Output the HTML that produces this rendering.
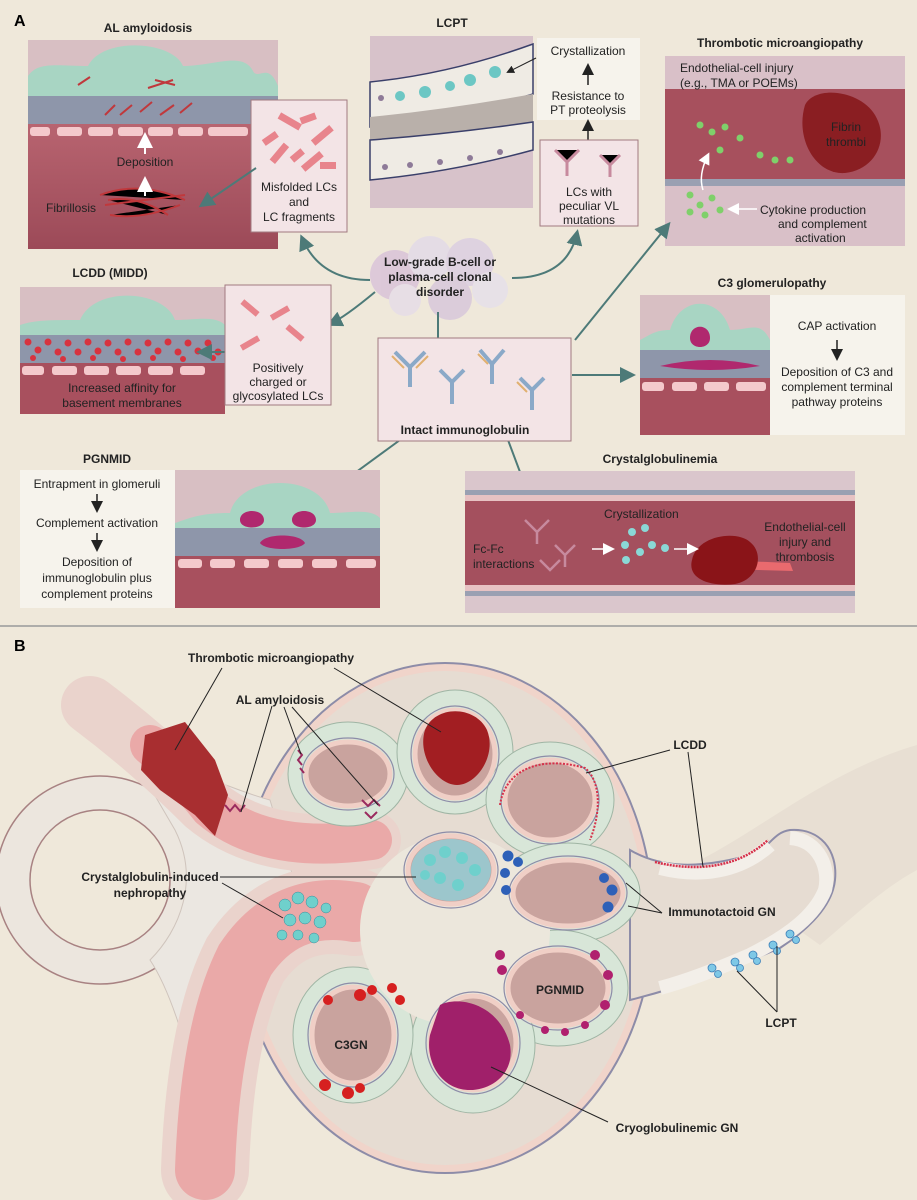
<!DOCTYPE html>
<html><head><meta charset="utf-8"><style>
html,body{margin:0;padding:0;background:#efe8da;}
svg{display:block;font-family:"Liberation Sans",sans-serif;}
.t{font-size:12px;fill:#222;}
.b{font-weight:bold;font-size:12px;fill:#222;}
</style></head><body>
<svg width="917" height="1200" viewBox="0 0 917 1200" xmlns="http://www.w3.org/2000/svg">
<defs>
<marker id="ar" markerWidth="8" markerHeight="8" refX="6" refY="4" orient="auto"><path d="M0,0 L8,4 L0,8 Z" fill="#4d7a78"/></marker>
<marker id="ak" markerWidth="8" markerHeight="8" refX="6" refY="4" orient="auto"><path d="M0,0 L8,4 L0,8 Z" fill="#222"/></marker>
<marker id="aw" markerWidth="8" markerHeight="8" refX="6" refY="4" orient="auto"><path d="M0,0 L8,4 L0,8 Z" fill="#fff"/></marker>
<linearGradient id="lum" x1="0" y1="0" x2="0" y2="1"><stop offset="0" stop-color="#b86470"/><stop offset="1" stop-color="#9c4a58"/></linearGradient>
<clipPath id="cap"><ellipse cx="445" cy="918" rx="200" ry="247"/></clipPath>
</defs>
<rect width="917" height="1200" fill="#efe8da"/>
<text x="14" y="26" style="font-size:16px;font-weight:bold">A</text>

<!-- AL amyloidosis -->
<text x="148" y="32" class="b" text-anchor="middle">AL amyloidosis</text>
<rect x="28" y="40" width="250" height="209" fill="#d8bfc3"/>
<path d="M28,96 h250 v-10 c-10,-25 -20,-5 -25,-15 c-10,-20 -40,-5 -70,-5 c-10,-25 -80,-30 -95,0 c-30,0 -50,-5 -60,10 z" fill="#a8d5c3"/>
<rect x="28" y="96" width="250" height="28" fill="#8e96aa"/>
<rect x="28" y="124" width="250" height="125" fill="url(#lum)"/>
<g fill="#f4c9cc"><rect x="30" y="127" width="20" height="9" rx="3"/><rect x="57" y="127" width="25" height="9" rx="3"/><rect x="88" y="127" width="25" height="9" rx="3"/><rect x="118" y="127" width="25" height="9" rx="3"/><rect x="148" y="127" width="25" height="9" rx="3"/><rect x="178" y="127" width="25" height="9" rx="3"/><rect x="208" y="127" width="40" height="9" rx="3"/></g>
<g stroke="#c0383c" stroke-width="2"><path d="M105,115 l10,-10 M120,115 l12,-10 M140,112 l12,-10 M160,115 l14,-10 M180,113 l12,-10 M78,85 l12,-8 M148,88 l25,-8 M155,80 l20,5"/>
<path d="M100,195 q40,-15 85,5 M105,205 q40,-5 80,-10 M110,215 q30,5 70,-10 M108,200 q30,-5 60,15"/></g>
<text x="145" y="166" class="t" text-anchor="middle">Deposition</text>
<text x="46" y="212" class="t">Fibrillosis</text>
<line x1="145" y1="154" x2="145" y2="136" stroke="#fff" stroke-width="2" marker-end="url(#aw)"/>
<line x1="145" y1="196" x2="145" y2="180" stroke="#fff" stroke-width="2" marker-end="url(#aw)"/>
<rect x="251" y="100" width="96" height="132" fill="#f3e4e6" stroke="#a27a80"/>
<g fill="#e8848c"><rect x="278" y="118" width="24" height="7" transform="rotate(30 290 121)"/><rect x="300" y="115" width="16" height="7" transform="rotate(-20 308 118)"/><rect x="310" y="132" width="24" height="7" transform="rotate(-40 322 135)"/><rect x="262" y="135" width="16" height="7" transform="rotate(-35 270 138)"/><rect x="268" y="150" width="22" height="7" transform="rotate(-50 279 153)"/><rect x="290" y="152" width="14" height="7" transform="rotate(-40 297 155)"/><rect x="300" y="158" width="24" height="7" transform="rotate(-40 312 161)"/><rect x="320" y="162" width="16" height="7"/></g>
<text x="299" y="191" class="t" text-anchor="middle">Misfolded LCs</text>
<text x="299" y="206" class="t" text-anchor="middle">and</text>
<text x="299" y="221" class="t" text-anchor="middle">LC fragments</text>
<line x1="256" y1="168" x2="202" y2="205" stroke="#4d7a78" stroke-width="2" marker-end="url(#ar)"/>

<!-- LCPT -->
<text x="452" y="27" class="b" text-anchor="middle">LCPT</text>
<rect x="370" y="36" width="163" height="172" fill="#d7c2ca"/>
<path d="M370,82 q80,-8 163,-38 v50 q-80,25 -163,33 z" fill="#efebe4" stroke="#3a3f6a" stroke-width="1.5"/>
<path d="M370,117 q80,-8 163,-23 v28 q-80,12 -163,18 z" fill="#b9b0aa"/>
<path d="M370,140 q80,-6 163,-18 v28 q-80,22 -163,30 z" fill="#efebe4" stroke="#3a3f6a" stroke-width="1.5"/>
<g fill="#6cc7c4"><circle cx="400" cy="96" r="5"/><circle cx="425" cy="92" r="6"/><circle cx="450" cy="86" r="5"/><circle cx="470" cy="80" r="6"/><circle cx="495" cy="72" r="6"/></g>
<g fill="#8e7a98"><circle cx="381" cy="98" r="3"/><circle cx="385" cy="167" r="3"/><circle cx="410" cy="165" r="3"/><circle cx="440" cy="162" r="3"/><circle cx="470" cy="158" r="3"/><circle cx="500" cy="152" r="3"/></g>
<rect x="537" y="38" width="103" height="82" fill="#f6f3ec"/>
<text x="588" y="55" class="t" text-anchor="middle">Crystallization</text>
<line x1="588" y1="85" x2="588" y2="66" stroke="#222" stroke-width="1.5" marker-end="url(#ak)"/>
<text x="588" y="100" class="t" text-anchor="middle">Resistance to</text>
<text x="588" y="114" class="t" text-anchor="middle">PT proteolysis</text>
<line x1="588" y1="140" x2="588" y2="122" stroke="#222" stroke-width="1.5" marker-end="url(#ak)"/>
<line x1="536" y1="58" x2="508" y2="72" stroke="#222" stroke-width="1" marker-end="url(#ak)"/>
<rect x="540" y="140" width="98" height="86" fill="#f3e4e6" stroke="#a27a80"/>
<g stroke="#c78a9e" stroke-width="3"><path d="M555,150 l12,12 l12,-12 M567,162 v14 M600,155 l10,10 l10,-10 M610,165 v12"/></g>
<text x="589" y="196" class="t" text-anchor="middle">LCs with</text>
<text x="589" y="210" class="t" text-anchor="middle">peculiar VL</text>
<text x="589" y="224" class="t" text-anchor="middle">mutations</text>

<!-- TMA -->
<text x="780" y="47" class="b" text-anchor="middle">Thrombotic microangiopathy</text>
<rect x="665" y="56" width="240" height="190" fill="#d9c0c8"/>
<rect x="665" y="89" width="240" height="90" fill="#a7505d"/>
<rect x="665" y="179" width="240" height="7" fill="#9aa0b2"/>
<path d="M805,105 c10,-20 55,-15 70,10 c15,25 0,55 -30,58 c-30,2 -50,-35 -40,-68z" fill="#8a1e22"/>
<g fill="#7fd06a"><circle cx="700" cy="125" r="3.5"/><circle cx="712" cy="132" r="3.5"/><circle cx="725" cy="127" r="3.5"/><circle cx="740" cy="138" r="3.5"/><circle cx="720" cy="150" r="3.5"/><circle cx="760" cy="155" r="3.5"/><circle cx="775" cy="160" r="3.5"/><circle cx="790" cy="160" r="3.5"/><circle cx="690" cy="195" r="3.5"/><circle cx="700" cy="205" r="3.5"/><circle cx="712" cy="198" r="3.5"/><circle cx="705" cy="215" r="3.5"/><circle cx="720" cy="210" r="3.5"/><circle cx="690" cy="212" r="3.5"/></g>
<text x="680" y="72" class="t">Endothelial-cell injury</text>
<text x="680" y="87" class="t">(e.g., TMA or POEMs)</text>
<text x="846" y="131" class="t" text-anchor="middle">Fibrin</text>
<text x="846" y="146" class="t" text-anchor="middle">thrombi</text>
<text x="760" y="214" class="t">Cytokine production</text>
<text x="778" y="228" class="t">and complement</text>
<text x="795" y="242" class="t">activation</text>
<line x1="757" y1="209" x2="730" y2="209" stroke="#fff" stroke-width="1.5" marker-end="url(#aw)"/>
<path d="M703,190 q-5,-15 5,-35" fill="none" stroke="#fff" stroke-width="1.5" marker-end="url(#aw)"/>

<!-- center cloud -->
<g opacity="0.85"><circle cx="395" cy="275" r="25" fill="#d9c3d8"/><circle cx="430" cy="258" r="22" fill="#e3dbe7"/><circle cx="470" cy="262" r="24" fill="#dccfe2"/><circle cx="490" cy="290" r="18" fill="#e6e0ea"/><circle cx="450" cy="298" r="22" fill="#d8c8da"/><circle cx="405" cy="300" r="16" fill="#e6dde8"/></g>
<text x="440" y="266" class="b" text-anchor="middle">Low-grade B-cell or</text>
<text x="440" y="281" class="b" text-anchor="middle">plasma-cell clonal</text>
<text x="440" y="296" class="b" text-anchor="middle">disorder</text>
<path d="M370,280 q-50,0 -68,-42" fill="none" stroke="#4d7a78" stroke-width="2" marker-end="url(#ar)"/>
<path d="M375,292 q-30,25 -45,32" fill="none" stroke="#4d7a78" stroke-width="2" marker-end="url(#ar)"/>
<path d="M512,278 q55,0 65,-45" fill="none" stroke="#4d7a78" stroke-width="2" marker-end="url(#ar)"/>
<line x1="438" y1="312" x2="438" y2="354" stroke="#4d7a78" stroke-width="2" marker-end="url(#ar)"/>
<line x1="575" y1="340" x2="668" y2="225" stroke="#4d7a78" stroke-width="2" marker-end="url(#ar)"/>
<line x1="572" y1="375" x2="632" y2="375" stroke="#4d7a78" stroke-width="2" marker-end="url(#ar)"/>
<line x1="400" y1="440" x2="318" y2="500" stroke="#4d7a78" stroke-width="2" marker-end="url(#ar)"/>
<line x1="508" y1="440" x2="535" y2="512" stroke="#4d7a78" stroke-width="2" marker-end="url(#ar)"/>

<!-- LCDD -->
<text x="110" y="277" class="b" text-anchor="middle">LCDD (MIDD)</text>
<rect x="20" y="287" width="205" height="127" fill="#d8bfc3"/>
<path d="M20,335 h205 v-10 c-10,-10 -30,-5 -50,-5 c-10,-30 -80,-35 -95,0 c-30,0 -45,0 -60,5z" fill="#a8d5c3"/>
<rect x="20" y="335" width="205" height="28" fill="#8e96aa"/>
<g fill="#d8333f">
<circle cx="28" cy="342" r="3.5"/><circle cx="38" cy="350" r="3.5"/><circle cx="48" cy="342" r="3.5"/><circle cx="58" cy="352" r="3.5"/><circle cx="68" cy="343" r="3.5"/><circle cx="78" cy="352" r="3.5"/><circle cx="88" cy="342" r="3.5"/><circle cx="98" cy="351" r="3.5"/><circle cx="108" cy="343" r="3.5"/><circle cx="118" cy="352" r="3.5"/><circle cx="128" cy="342" r="3.5"/><circle cx="138" cy="352" r="3.5"/><circle cx="148" cy="343" r="3.5"/><circle cx="158" cy="351" r="3.5"/><circle cx="168" cy="342" r="3.5"/><circle cx="178" cy="352" r="3.5"/><circle cx="188" cy="343" r="3.5"/><circle cx="198" cy="351" r="3.5"/><circle cx="208" cy="343" r="3.5"/><circle cx="218" cy="352" r="3.5"/>
<circle cx="33" cy="358" r="3"/><circle cx="63" cy="359" r="3"/><circle cx="93" cy="358" r="3"/><circle cx="123" cy="359" r="3"/><circle cx="153" cy="358" r="3"/><circle cx="183" cy="359" r="3"/><circle cx="213" cy="358" r="3"/></g>
<rect x="20" y="363" width="205" height="51" fill="#a8505e"/>
<g fill="#f4c9cc"><rect x="22" y="366" width="22" height="9" rx="3"/><rect x="52" y="366" width="25" height="9" rx="3"/><rect x="84" y="366" width="25" height="9" rx="3"/><rect x="116" y="366" width="25" height="9" rx="3"/><rect x="148" y="366" width="25" height="9" rx="3"/><rect x="180" y="366" width="25" height="9" rx="3"/></g>
<text x="122" y="392" class="t" text-anchor="middle">Increased affinity for</text>
<text x="122" y="407" class="t" text-anchor="middle">basement membranes</text>
<line x1="228" y1="352" x2="200" y2="352" stroke="#4d7a78" stroke-width="2" marker-end="url(#ar)"/>
<rect x="225" y="285" width="106" height="120" fill="#f3e4e6" stroke="#a27a80"/>
<g fill="#e8848c"><rect x="240" y="305" width="20" height="6" transform="rotate(40 250 308)"/><rect x="270" y="310" width="20" height="6" transform="rotate(-30 280 313)"/><rect x="285" y="330" width="20" height="6" transform="rotate(40 295 333)"/><rect x="240" y="340" width="20" height="6" transform="rotate(-30 250 343)"/></g>
<text x="278" y="372" class="t" text-anchor="middle">Positively</text>
<text x="278" y="386" class="t" text-anchor="middle">charged or</text>
<text x="278" y="400" class="t" text-anchor="middle">glycosylated LCs</text>

<!-- Intact Ig -->
<rect x="378" y="338" width="193" height="103" fill="#f3e4e6" stroke="#a27a80"/>
<g stroke="#8aa9c8" stroke-width="4" fill="none"><path d="M395,352 l15,15 l15,-15 M410,367 v20 M440,370 l12,12 l12,-12 M452,382 v22 M480,350 l12,14 l12,-14 M492,364 v20 M520,378 l12,12 l12,-12 M532,390 v20"/></g>
<g stroke="#e0b070" stroke-width="2" fill="none"><path d="M392,356 l12,12 M428,356 l-12,12 M478,354 l10,10 M517,382 l10,10"/></g>
<text x="465" y="434" class="b" text-anchor="middle">Intact immunoglobulin</text>

<!-- C3 -->
<text x="772" y="287" class="b" text-anchor="middle">C3 glomerulopathy</text>
<rect x="640" y="295" width="130" height="140" fill="#d8bfc3"/>
<path d="M640,350 h130 v-10 c-10,-20 -20,-10 -40,-10 c-10,-35 -50,-35 -60,0 c-15,0 -20,5 -30,10z" fill="#a8d5c3"/>
<rect x="640" y="350" width="130" height="28" fill="#8e96aa"/>
<path d="M690,338 c0,-15 20,-15 20,0 c0,12 -20,12 -20,0z" fill="#b0286e"/>
<path d="M660,366 q50,-12 100,0 q-50,8 -100,0z" fill="#b0286e"/>
<rect x="640" y="378" width="130" height="57" fill="#a8505e"/>
<g fill="#f4c9cc"><rect x="642" y="382" width="22" height="9" rx="3"/><rect x="672" y="382" width="25" height="9" rx="3"/><rect x="704" y="382" width="25" height="9" rx="3"/><rect x="736" y="382" width="30" height="9" rx="3"/></g>
<rect x="770" y="295" width="135" height="140" fill="#f6f3ec"/>
<text x="837" y="330" class="t" text-anchor="middle">CAP activation</text>
<line x1="837" y1="340" x2="837" y2="358" stroke="#222" stroke-width="1.5" marker-end="url(#ak)"/>
<text x="837" y="376" class="t" text-anchor="middle">Deposition of C3 and</text>
<text x="837" y="391" class="t" text-anchor="middle">complement terminal</text>
<text x="837" y="406" class="t" text-anchor="middle">pathway proteins</text>

<!-- PGNMID -->
<text x="107" y="463" class="b" text-anchor="middle">PGNMID</text>
<rect x="20" y="470" width="155" height="138" fill="#f6f3ec"/>
<text x="97" y="488" class="t" text-anchor="middle">Entrapment in glomeruli</text>
<line x1="97" y1="494" x2="97" y2="510" stroke="#222" stroke-width="1.5" marker-end="url(#ak)"/>
<text x="97" y="527" class="t" text-anchor="middle">Complement activation</text>
<line x1="97" y1="533" x2="97" y2="549" stroke="#222" stroke-width="1.5" marker-end="url(#ak)"/>
<text x="97" y="566" class="t" text-anchor="middle">Deposition of</text>
<text x="97" y="582" class="t" text-anchor="middle">immunoglobulin plus</text>
<text x="97" y="598" class="t" text-anchor="middle">complement proteins</text>
<rect x="175" y="470" width="205" height="138" fill="#d8bfc3"/>
<path d="M175,528 h205 v-10 c-10,-10 -30,-5 -50,-5 c-10,-40 -90,-40 -100,0 c-30,0 -40,5 -55,10z" fill="#a8d5c3"/>
<rect x="175" y="528" width="205" height="28" fill="#8e96aa"/>
<path d="M240,520 c0,-12 24,-12 24,0 c0,10 -24,10 -24,0z M292,520 c0,-12 24,-12 24,0 c0,10 -24,10 -24,0z M260,543 c5,-10 40,-10 45,0 c-5,8 -40,8 -45,0z" fill="#b0286e"/>
<rect x="175" y="556" width="205" height="52" fill="#a8505e"/>
<g fill="#f4c9cc"><rect x="178" y="559" width="24" height="9" rx="3"/><rect x="210" y="559" width="25" height="9" rx="3"/><rect x="244" y="559" width="25" height="9" rx="3"/><rect x="278" y="559" width="25" height="9" rx="3"/><rect x="312" y="559" width="25" height="9" rx="3"/><rect x="346" y="559" width="30" height="9" rx="3"/></g>

<!-- Crystalglobulinemia -->
<text x="660" y="463" class="b" text-anchor="middle">Crystalglobulinemia</text>
<rect x="465" y="471" width="390" height="142" fill="#dac6cc"/>
<rect x="465" y="490" width="390" height="5" fill="#9aa0b2"/>
<rect x="465" y="495" width="390" height="6" fill="#e7c2c3"/>
<rect x="465" y="501" width="390" height="84" fill="#a4505e"/>
<rect x="465" y="585" width="390" height="6" fill="#e7c2c3"/>
<rect x="465" y="591" width="390" height="5" fill="#9aa0b2"/>
<path d="M720,560 l70,3 l3,8 l-70,-2z" fill="#e96a6e"/>
<path d="M692,560 c5,-25 45,-30 58,-18 c15,12 8,38 -15,42 c-25,3 -48,-5 -43,-24z" fill="#8a1418"/>
<g stroke="#c78a9e" stroke-width="2.5" fill="none"><path d="M525,520 l12,12 l12,-12 M537,532 v12 M555,545 l10,10 l10,-10 M565,555 v12 M540,560 l10,10 l10,-10"/></g>
<g fill="#8ad8d6"><circle cx="625" cy="545" r="4"/><circle cx="632" cy="532" r="4"/><circle cx="626" cy="560" r="4"/><circle cx="645" cy="528" r="4"/><circle cx="652" cy="545" r="4"/><circle cx="665" cy="548" r="4"/><circle cx="640" cy="552" r="4"/></g>
<text x="604" y="518" class="t">Crystallization</text>
<line x1="592" y1="549" x2="612" y2="549" stroke="#fff" stroke-width="1.5" marker-end="url(#aw)"/>
<line x1="674" y1="549" x2="696" y2="549" stroke="#fff" stroke-width="1.5" marker-end="url(#aw)"/>
<text x="473" y="553" class="t">Fc-Fc</text>
<text x="473" y="568" class="t">interactions</text>
<text x="805" y="531" class="t" text-anchor="middle">Endothelial-cell</text>
<text x="805" y="546" class="t" text-anchor="middle">injury and</text>
<text x="805" y="561" class="t" text-anchor="middle">thrombosis</text>

<line x1="0" y1="626" x2="917" y2="626" stroke="#999" stroke-width="1.5"/>
<text x="14" y="651" style="font-size:16px;font-weight:bold">B</text>

<!-- Panel B -->
<path d="M700,860 C760,830 830,770 917,745 L917,870 C880,890 850,920 820,945 Z" fill="#e8dfd3"/>
<!-- left ring tubule -->
<circle cx="100" cy="880" r="104" fill="#ece6de" stroke="#a88282" stroke-width="1.5"/>
<circle cx="100" cy="880" r="70" fill="#efe8da" stroke="#a88282" stroke-width="1.5"/>
<!-- capsule -->
<ellipse cx="445" cy="918" rx="208" ry="255" fill="#f0d4ca" stroke="#8d8ca8" stroke-width="2"/>
<ellipse cx="445" cy="918" rx="200" ry="247" fill="#e6dcd2"/>
<!-- cell mass (vascular pole) -->
<path d="M140,770 C180,760 230,790 270,800 L300,900 C260,950 250,1010 250,1100 L200,1100 C185,1040 170,990 150,960 C180,930 200,880 175,830 Z" fill="#ebe7e1" stroke="#cfc4bc" stroke-width="1"/>
<!-- upper arteriole -->
<path d="M90,705 Q150,750 205,805 Q265,855 372,840" fill="none" stroke="#ead3cc" stroke-width="58" stroke-linecap="round"/>
<path d="M150,745 Q180,770 210,808 Q265,855 372,840" fill="none" stroke="#eaa9a8" stroke-width="40" stroke-linecap="round"/>
<path d="M145,735 L185,722 L215,760 L228,795 L215,836 L195,815 L160,790 L141,770 Z" fill="#a82e30"/>
<!-- lower arteriole -->
<path d="M355,912 Q285,900 245,960 Q210,1030 205,1170" fill="none" stroke="#ead3cc" stroke-width="88" stroke-linecap="round"/>
<path d="M355,912 Q285,900 245,960 Q210,1030 205,1170" fill="none" stroke="#eaa9a8" stroke-width="60" stroke-linecap="round"/>
<!-- right tubule -->
<path d="M630,850 C660,868 700,870 757,853 C770,845 775,832 790,830 C820,828 838,850 835,880 C832,910 800,935 780,948 C740,965 690,985 630,1000 Z" fill="#e6dcd2" stroke="#8d8ca8" stroke-width="2"/>
<path d="M660,868 C700,878 740,872 770,845" fill="none" stroke="#f3efe9" stroke-width="14"/>
<path d="M655,862 C700,873 740,866 768,840" fill="none" stroke="#d6304a" stroke-width="2.5" stroke-dasharray="2 1"/>
<path d="M790,838 C820,840 830,870 825,890 C815,915 790,935 750,955 C720,968 690,980 660,988" fill="none" stroke="#f3efe9" stroke-width="14"/>
<g fill="#7ec8e6" stroke="#3b7fb8" stroke-width="0.8"><circle cx="712" cy="968" r="4"/><circle cx="718" cy="974" r="3.5"/><circle cx="735" cy="962" r="4"/><circle cx="740" cy="968" r="3.5"/><circle cx="753" cy="955" r="4"/><circle cx="757" cy="961" r="3.5"/><circle cx="773" cy="945" r="4"/><circle cx="777" cy="951" r="3.5"/><circle cx="790" cy="934" r="4"/><circle cx="796" cy="940" r="3.5"/></g>
<!-- tuft green -->
<g fill="#d8e6d8" stroke="#9fb5a4" stroke-width="1">
<ellipse cx="348" cy="774" rx="60" ry="52"/><ellipse cx="455" cy="752" rx="58" ry="62"/><ellipse cx="550" cy="800" rx="64" ry="58"/>
<ellipse cx="568" cy="893" rx="72" ry="50"/><ellipse cx="558" cy="988" rx="70" ry="58"/><ellipse cx="473" cy="1045" rx="62" ry="68"/>
<ellipse cx="353" cy="1035" rx="60" ry="68"/>
</g>
<ellipse cx="455" cy="930" rx="95" ry="95" fill="#ece7dc"/>
<g fill="#c9a39e" stroke="#f0cfc6" stroke-width="5">
<ellipse cx="348" cy="774" rx="42" ry="32"/><ellipse cx="455" cy="754" rx="40" ry="44"/><ellipse cx="550" cy="800" rx="45" ry="40"/>
<ellipse cx="451" cy="870" rx="43" ry="34"/><ellipse cx="568" cy="893" rx="55" ry="33"/><ellipse cx="558" cy="988" rx="50" ry="38"/>
<ellipse cx="473" cy="1043" rx="43" ry="47"/><ellipse cx="353" cy="1035" rx="41" ry="48"/>
</g>
<g fill="none" stroke="#8d8ca8" stroke-width="1.2">
<ellipse cx="348" cy="774" rx="46" ry="36"/><ellipse cx="455" cy="754" rx="44" ry="48"/><ellipse cx="550" cy="800" rx="49" ry="44"/>
<ellipse cx="451" cy="870" rx="47" ry="38"/><ellipse cx="568" cy="893" rx="59" ry="37"/><ellipse cx="558" cy="988" rx="54" ry="42"/>
<ellipse cx="473" cy="1043" rx="47" ry="51"/><ellipse cx="353" cy="1035" rx="45" ry="52"/>
</g>
<path d="M425,730 c10,-25 50,-25 62,0 c10,25 -10,55 -30,55 c-20,0 -40,-30 -32,-55z" fill="#a21e22"/>
<ellipse cx="451" cy="870" rx="40" ry="31" fill="#9cc6cc"/>
<g fill="#6fd0cc"><circle cx="430" cy="860" r="6"/><circle cx="445" cy="852" r="6"/><circle cx="462" cy="858" r="6"/><circle cx="475" cy="870" r="6"/><circle cx="440" cy="878" r="6"/><circle cx="458" cy="885" r="6"/><circle cx="425" cy="875" r="5"/></g>
<path d="M440,1005 c20,-10 60,0 70,40 c5,30 -20,45 -40,45 c-30,0 -45,-30 -40,-55z" fill="#a0206a"/>
<g fill="#d62020"><circle cx="360" cy="995" r="6"/><circle cx="372" cy="990" r="5"/><circle cx="392" cy="988" r="5"/><circle cx="400" cy="1000" r="5"/><circle cx="328" cy="1000" r="5"/><circle cx="325" cy="1085" r="6"/><circle cx="348" cy="1093" r="6"/><circle cx="360" cy="1088" r="5"/></g>
<g fill="#2e60b8"><circle cx="508" cy="856" r="5.5"/><circle cx="518" cy="862" r="5"/><circle cx="505" cy="873" r="5"/><circle cx="506" cy="890" r="5"/><circle cx="604" cy="878" r="5"/><circle cx="612" cy="890" r="5.5"/><circle cx="608" cy="907" r="5.5"/></g>
<g fill="#b0206e"><circle cx="500" cy="955" r="5"/><circle cx="502" cy="970" r="5"/><circle cx="595" cy="955" r="5"/><circle cx="608" cy="975" r="5"/><circle cx="605" cy="1005" r="5"/><circle cx="545" cy="1030" r="4"/><circle cx="565" cy="1032" r="4"/><circle cx="585" cy="1025" r="4"/><circle cx="520" cy="1015" r="4"/></g>
<path d="M500,805 C505,770 540,755 585,768 C600,780 602,810 590,840" fill="none" stroke="#d6304a" stroke-width="2" stroke-dasharray="2 1.5"/>
<g stroke="#9a2a5e" stroke-width="2" fill="none"><path d="M298,750 l4,5 l-4,5 l4,5 M300,768 l4,5"/><path d="M362,800 l6,6 l6,-6 l6,6 M365,812 l6,6 l6,-6"/><path d="M225,805 l5,6 l5,-6 l5,6 l5,-6"/></g>
<g fill="#6fd0cc" stroke="#3f8a9a" stroke-width="0.5"><circle cx="285" cy="905" r="6"/><circle cx="298" cy="898" r="6"/><circle cx="312" cy="902" r="6"/><circle cx="326" cy="908" r="5"/><circle cx="290" cy="920" r="6"/><circle cx="305" cy="918" r="6"/><circle cx="320" cy="922" r="6"/><circle cx="282" cy="935" r="5"/><circle cx="298" cy="935" r="5"/><circle cx="314" cy="938" r="5"/></g>
<!-- leader lines -->
<g stroke="#222" stroke-width="1" fill="none">
<line x1="222" y1="668" x2="175" y2="750"/><line x1="334" y1="668" x2="441" y2="732"/>
<line x1="272" y1="706" x2="241" y2="812"/><line x1="284" y1="707" x2="301" y2="754"/><line x1="292" y1="707" x2="378" y2="805"/>
<line x1="220" y1="877" x2="416" y2="877"/><line x1="222" y1="883" x2="283" y2="918"/>
<line x1="670" y1="750" x2="586" y2="773"/><line x1="688" y1="752" x2="703" y2="867"/>
<line x1="662" y1="913" x2="626" y2="883"/><line x1="662" y1="913" x2="628" y2="906"/>
<line x1="777" y1="1012" x2="737" y2="971"/><line x1="777" y1="1012" x2="777" y2="946"/>
<line x1="608" y1="1122" x2="491" y2="1067"/>
</g>
<text x="271" y="662" class="b" text-anchor="middle">Thrombotic microangiopathy</text>
<text x="280" y="704" class="b" text-anchor="middle">AL amyloidosis</text>
<text x="690" y="749" class="b" text-anchor="middle">LCDD</text>
<text x="150" y="881" class="b" text-anchor="middle">Crystalglobulin-induced</text>
<text x="150" y="897" class="b" text-anchor="middle">nephropathy</text>
<text x="722" y="916" class="b" text-anchor="middle">Immunotactoid GN</text>
<text x="560" y="994" class="b" text-anchor="middle">PGNMID</text>
<text x="781" y="1027" class="b" text-anchor="middle">LCPT</text>
<text x="351" y="1049" class="b" text-anchor="middle">C3GN</text>
<text x="677" y="1132" class="b" text-anchor="middle">Cryoglobulinemic GN</text>
</svg>
</body></html>
